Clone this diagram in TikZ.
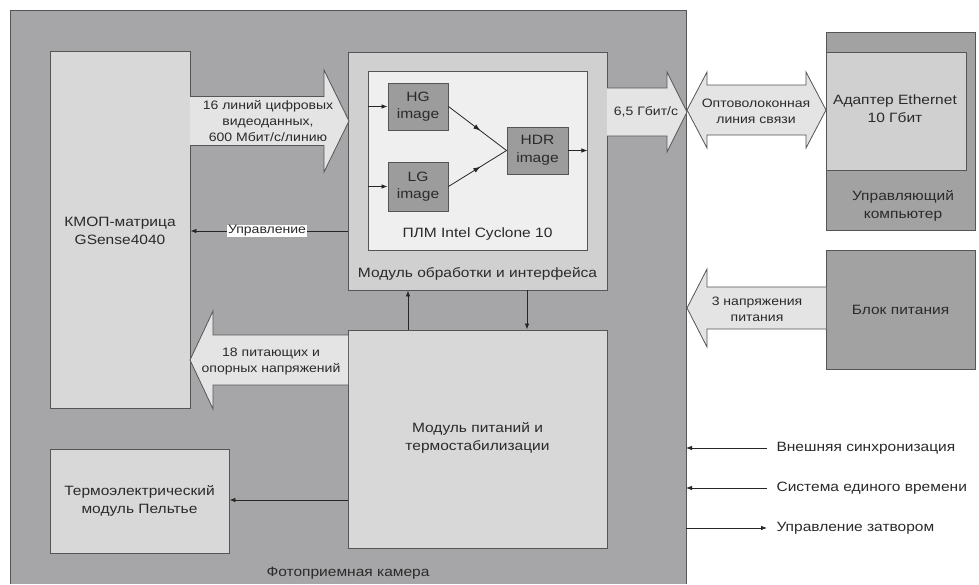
\documentclass[tikz,border=0pt]{standalone}
\usepackage{fontspec}
\setmainfont{Liberation Sans}[FakeStretch=1.15]
\usetikzlibrary{arrows.meta,decorations.markings}
\definecolor{camgray}{HTML}{A6A6A8}
\definecolor{boxlight}{HTML}{D8D8D8}
\definecolor{boxmid}{HTML}{D0D0D0}
\definecolor{plmfill}{HTML}{EFEFEF}
\definecolor{darkbox}{HTML}{9C9C9C}
\definecolor{extgray}{HTML}{A2A2A2}
\definecolor{arrfill}{HTML}{E4E4E4}
\definecolor{edge}{HTML}{555555}
\definecolor{txt}{HTML}{2A2A2A}
\newcommand\blkR[6]{% start x, tip x, center y, body half, head half, head length
  \draw[blockarr] (#1,#3-#4) -- (#2-#6,#3-#4) -- (#2-#6,#3-#5) -- (#2,#3) -- (#2-#6,#3+#5) -- (#2-#6,#3+#4) -- (#1,#3+#4);}
\newcommand\blkL[6]{% start x, tip x, center y, body half, head half, head length
  \draw[blockarr] (#1,#3-#4) -- (#2+#6,#3-#4) -- (#2+#6,#3-#5) -- (#2,#3) -- (#2+#6,#3+#5) -- (#2+#6,#3+#4) -- (#1,#3+#4);}
\tikzset{
  every node/.style={text=txt,font=\fontsize{13.5}{17.5}\selectfont,align=center},
  box/.style={draw=edge,line width=0.9pt,inner sep=0pt},
  blockarr/.style={draw=edge,line width=0.8pt,fill=arrfill},
  conn/.style={draw=black!85,line width=0.8pt,-{Latex[length=6pt,width=4.5pt]}},
  midarr/.style={draw=black!85,line width=0.8pt,postaction={decorate},
    decoration={markings,mark=at position 0.55 with {\arrow{Latex[length=7pt,width=5pt]}}}},
  lbl/.style={font=\fontsize{12.2}{16}\selectfont},
}
\begin{document}
\begin{tikzpicture}[x=1pt,y=-1pt]
\useasboundingbox (0,0) rectangle (979,584);
\fill[white] (0,0) rectangle (979,584);
% camera
\fill[camgray] (10,10) rectangle (686,584);
\draw[edge,line width=1pt] (10,584) -- (10,10) -- (686,10) -- (686,584);
\node (cam) at (348,573) {Фотоприемная камера};
% KMOP
\node[box,fill=boxlight,minimum width=140pt,minimum height=357pt] (kmop) at (120,229.5) {};
\node at (120,231) {КМОП-матрица\\GSense4040};
% processing module
\node[box,fill=boxmid,minimum width=259pt,minimum height=238pt] (mobr) at (477.5,171) {};
\node at (477.5,274) {Модуль обработки и интерфейса};
\node[box,fill=plmfill,minimum width=219pt,minimum height=179pt] (plm) at (477.5,160.5) {};
\node at (477.5,234) {ПЛМ Intel Cyclone 10};
\node[box,fill=darkbox,minimum width=60pt,minimum height=47pt] (hg) at (418,106.5) {HG\\image};
\node[box,fill=darkbox,minimum width=60pt,minimum height=49pt] (lg) at (418,186.5) {LG\\image};
\node[box,fill=darkbox,minimum width=61pt,minimum height=47pt] (hdr) at (537.5,150.5) {HDR\\image};
\coordinate (hgin) at (plm.west |- hg.west);
\coordinate (lgin) at (plm.west |- lg.west);
\coordinate (hdrout) at (plm.east |- hdr.east);
\draw[conn] (hgin) -- (hg.west);
\draw[conn] (lgin) -- (lg.west);
\draw[midarr] (hg.east) -- (hdr.west);
\draw[midarr] (lg.east) -- (hdr.west);
\draw[conn] (hdr.east) -- (hdrout);
% power module
\node[box,fill=boxlight,minimum width=259pt,minimum height=218pt] (mpit) at (477.5,439) {};
\node at (477.5,438) {Модуль питаний и\\термостабилизации};
% Peltier
\node[box,fill=boxlight,minimum width=179pt,minimum height=104pt] (termo) at (139.5,501) {Термоэлектрический\\модуль Пельтье};
% connections
\coordinate (upA) at (408,0);
\coordinate (dnA) at (527,0);
\draw[conn] (upA |- mpit.north) -- (upA |- mobr.south);
\draw[conn] (dnA |- mobr.south) -- (dnA |- mpit.north);
\coordinate (ctlY) at (0,231);
\draw[conn] (mobr.west |- ctlY) -- (kmop.east |- ctlY);
\node[fill=white,inner sep=1pt,lbl] (ctl) at (267,231) {Управление};
\coordinate (peY) at (0,500);
\draw[conn] (mpit.west |- peY) -- (termo.east |- peY);
% external boxes
\node[box,fill=extgray,minimum width=149pt,minimum height=198pt] (comp) at (900.5,131) {};
\node[box,fill=boxmid,minimum width=140pt,minimum height=118pt] (adapt) at (896,111) {};
\node at (895,108.5) {Адаптер Ethernet\\10 Гбит};
\node at (903,206) {Управляющий\\компьютер};
\node[box,fill=extgray,minimum width=149pt,minimum height=119pt] (bp) at (900.5,309.5) {Блок питания};
% block arrows
\blkR{190}{349}{121}{24.5}{51}{25}
\node[lbl] (a16) at (268,121) {16 линий цифровых\\видеоданных,\\600 Мбит/с/линию};
\blkR{607}{687}{112}{24}{40}{20}
\node[lbl] (a65) at (646,112) {6,5 Гбит/с};
\draw[blockarr] (687,110) -- (707,72) -- (707,85) -- (806,85) -- (806,72) -- (826,110) -- (806,148) -- (806,135) -- (707,135) -- (707,148) -- cycle;
\node[lbl] (afib) at (756,111) {Оптоволоконная\\линия связи};
\blkL{826}{687}{308}{21}{39}{20}
\node[lbl] (a3) at (757,309) {3 напряжения\\питания};
\blkL{348}{190}{360}{25}{49}{23}
\node[lbl] (a18) at (271,361) {18 питающих и\\опорных напряжений};
% external signals
\coordinate (s1) at (767,448);
\coordinate (s2) at (767,488);
\coordinate (s3) at (767,528);
\draw[conn] (s1) -- (686,448);
\draw[conn] (s2) -- (686,488);
\draw[conn] (686,528) -- (s3);
\node[anchor=west] (t1) at (773,448) {Внешняя синхронизация};
\node[anchor=west] (t2) at (773,488) {Система единого времени};
\node[anchor=west] (t3) at (773,528) {Управление затвором};
\end{tikzpicture}
\end{document}
